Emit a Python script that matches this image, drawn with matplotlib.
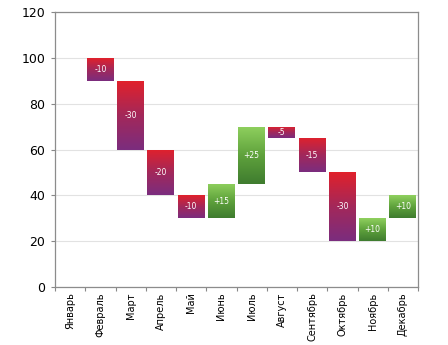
import matplotlib
matplotlib.use('Agg')
import matplotlib.pyplot as plt
from matplotlib.colors import LinearSegmentedColormap
import numpy as np

months = ['Январь', 'Февраль', 'Март', 'Апрель', 'Май', 'Июнь', 'Июль',
          'Август', 'Сентябрь', 'Октябрь', 'Ноябрь', 'Декабрь']
start_value = 100
changes = [0, -10, -30, -20, -10, 15, 25, -5, -15, -30, 10, 10]
labels = ['', '-10', '-30', '-20', '-10', '+15', '+25', '-5', '-15', '-30', '+10', '+10']

# running totals before each change
levels = [start_value]
for c in changes[1:]:
    levels.append(levels[-1] + c)

neg_cmap = LinearSegmentedColormap.from_list('neg', ['#7b2d7e', '#a3285a', '#e0212c'])
pos_cmap = LinearSegmentedColormap.from_list('pos', ['#3f7c2f', '#5fa23c', '#8fd05e'])

fig = plt.figure(figsize=(4.48, 3.45), dpi=100)
ax = fig.add_axes([0.123, 0.168, 0.810, 0.797])

x = np.arange(len(months))
width = 0.89
grad = np.linspace(0, 1, 64).reshape(-1, 1)

for i in range(1, len(months)):
    c = changes[i]
    prev = levels[i - 1]
    cur = levels[i]
    lo, hi = min(prev, cur), max(prev, cur)
    bar = ax.bar(x[i], hi - lo, bottom=lo, width=width, color='none',
                 edgecolor='none', zorder=3)[0]
    cmap = neg_cmap if c < 0 else pos_cmap
    im = ax.imshow(grad, cmap=cmap, origin='lower', aspect='auto',
                   extent=(x[i] - width / 2, x[i] + width / 2, lo, hi),
                   zorder=3)
    im.set_clip_path(bar)
    ax.text(x[i], (lo + hi) / 2, labels[i], color='white', fontsize=5.5,
            ha='center', va='center', zorder=4)

ax.set_xlim(-0.5, len(months) - 0.5)
ax.set_ylim(0, 120)
ax.set_yticks(range(0, 121, 20))
ax.set_xticks(np.arange(len(months) + 1) - 0.5, minor=False)
ax.set_xticklabels([])
ax.set_xticks(x, minor=True)
ax.set_xticklabels(months, minor=True, rotation=90, fontsize=7)
ax.tick_params(axis='x', which='minor', length=0, pad=4)
ax.tick_params(axis='x', which='major', length=3, color='#888888', direction='out')
ax.tick_params(axis='y', length=3, color='#888888', labelsize=9, pad=4)

ax.grid(axis='y', color='#e2e2e2', linewidth=0.8, zorder=0)
ax.set_axisbelow(True)
for s in ax.spines.values():
    s.set_color('#8c8c8c')
    s.set_linewidth(0.9)

fig.savefig('out.png', dpi=100)
